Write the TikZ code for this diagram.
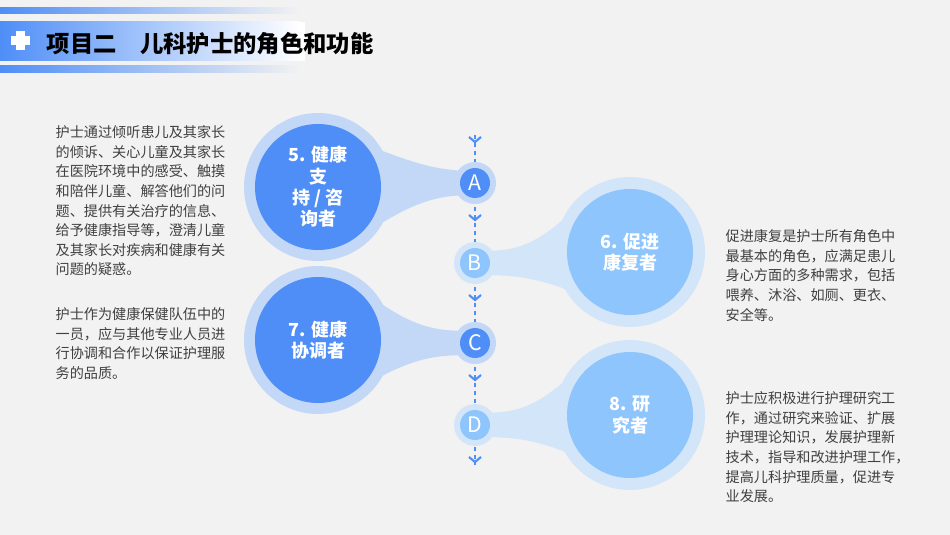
\documentclass[tikz,border=0pt]{standalone}
\usepackage{fontspec}
\setmainfont{Noto Sans CJK SC}
\usetikzlibrary{calc}
\definecolor{darkb}{HTML}{4F8EF7}
\definecolor{lightb}{HTML}{8EC5FC}
\definecolor{ringd}{HTML}{C2D8F6}
\definecolor{ringl}{HTML}{D3E5F9}
\definecolor{bg}{HTML}{F2F2F2}
\tikzset{
  big/.style={circle, minimum size=126*0.75pt, inner sep=0pt, align=center,
    text=white, font=\fontsize{13.5}{16}\selectfont\bfseries},
  small/.style={circle, minimum size=30*0.75pt, inner sep=0pt, text=white,
    font=\fontsize{16}{18}\selectfont},
  body/.style={anchor=north west, align=left, text=black!75,
    font=\fontsize{10.6}{14.7}\selectfont}
}
\begin{document}
\begin{tikzpicture}[x=0.75pt, y=-0.75pt]
  \fill[bg] (0,0) rectangle (950,535);
  \useasboundingbox (0,0) rectangle (950,535);

  % header bars
  \shade[left color=darkb, right color=bg] (0,8) rectangle (300,14);
  \shade[left color=darkb, right color=white] (0,22) rectangle (300,61);
  \fill[white] (300,22) rectangle (305,61);
  \shade[left color=darkb, right color=bg] (0,66) rectangle (300,73);
  \fill[white] (16,31) rectangle (25,50);
  \fill[white] (11,36) rectangle (30,45);
  \node[anchor=west, font=\fontsize{17.5}{19}\selectfont\bfseries] (title) at (42,44)
    {项目二\hspace{1em}儿科护士的角色和功能};

  % necks
  \fill[ringd] (380,150) .. controls (420,165) and (440,171) .. (475,171)
    -- (475,195) .. controls (440,195) and (420,200) .. (380,224) -- cycle;
  \fill[ringl] (568,215) .. controls (530,250) and (510,251) .. (475,251)
    -- (475,275) .. controls (510,275) and (530,276) .. (568,290) -- cycle;
  \fill[ringd] (380,303) .. controls (420,330) and (440,331) .. (475,331)
    -- (475,355) .. controls (440,355) and (420,356) .. (380,377) -- cycle;
  \fill[ringl] (568,378) .. controls (530,412) and (510,413) .. (475,413)
    -- (475,437) .. controls (510,437) and (530,438) .. (568,453) -- cycle;

  % big circles
  \fill[ringd] (318,187) circle (74);
  \fill[ringd] (318,340) circle (74);
  \fill[ringl] (630,252) circle (75);
  \fill[ringl] (630,415) circle (75);
  \node[big, fill=darkb] (r5) at (318,187) {5. 健康\\支\\持 / 咨\\询者};
  \node[big, fill=darkb] (r7) at (318,340) {7. 健康\\协调者};
  \node[big, fill=lightb] (r6) at (630,252) {6. 促进\\康复者};
  \node[big, fill=lightb] (r8) at (630,415) {8. 研\\究者};

  % timeline
  \coordinate (top) at (475,135);
  \coordinate (bot) at (475,465);
  \draw[darkb, thick, dashed] (top) -- (bot);
  \foreach \y in {140,218,298,378,460}
    \draw[darkb, line width=1.6pt] (469,\y-3) -- (475,\y+2) -- (481,\y-3);

  \foreach \n/\y/\c/\r in {A/183/darkb/ringd, B/263/lightb/ringl,
                           C/343/darkb/ringd, D/425/lightb/ringl} {
    \fill[\r] (475,\y) circle (21);
    \node[small, fill=\c] (\n) at (475,\y) {\n};
  }

  % descriptions
  \node[body] (t5) at (51,121) {护士通过倾听患儿及其家长\\的倾诉、关心儿童及其家长\\在医院环境中的感受、触摸\\和陪伴儿童、解答他们的问\\题、提供有关治疗的信息、\\给予健康指导等，澄清儿童\\及其家长对疾病和健康有关\\问题的疑惑。};
  \node[body] (t7) at (51,303) {护士作为健康保健队伍中的\\一员，应与其他专业人员进\\行协调和合作以保证护理服\\务的品质。};
  \node[body] (t6) at (721,225) {促进康复是护士所有角色中\\最基本的角色，应满足患儿\\身心方面的多种需求，包括\\喂养、沐浴、如厕、更衣、\\安全等。};
  \node[body] (t8) at (721,387) {护士应积极进行护理研究工\\作，通过研究来验证、扩展\\护理理论知识，发展护理新\\技术，指导和改进护理工作，\\提高儿科护理质量，促进专\\业发展。};
\end{tikzpicture}
\end{document}
